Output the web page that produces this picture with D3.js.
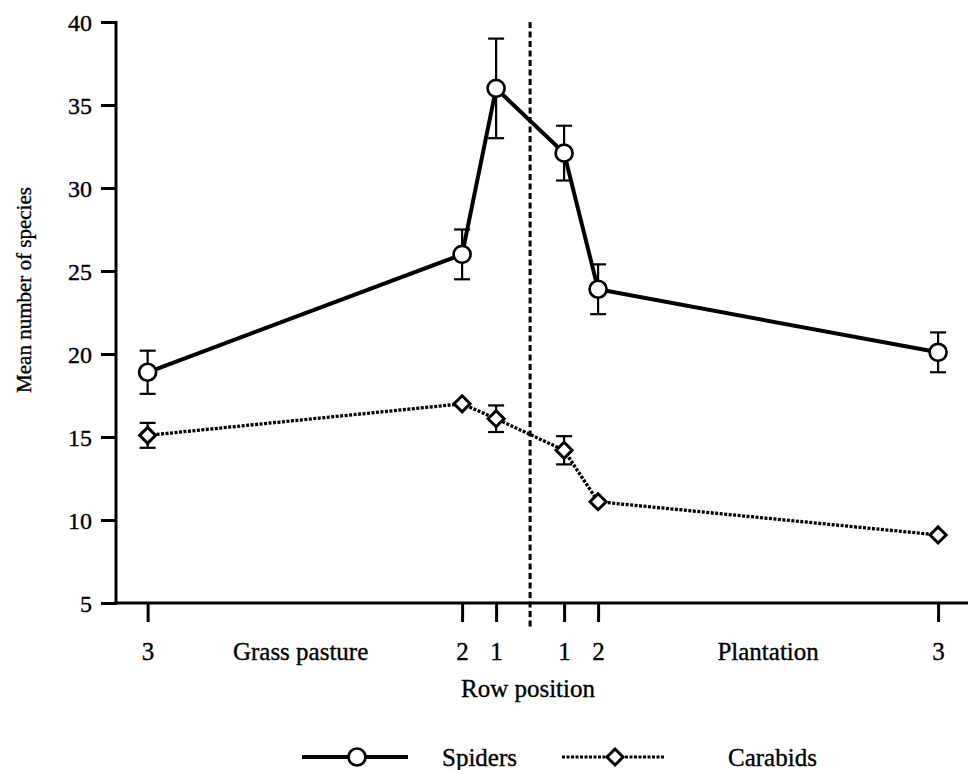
<!DOCTYPE html>
<html>
<head>
<meta charset="utf-8">
<script src="https://cdn.jsdelivr.net/npm/d3@7/dist/d3.min.js"></script>
<style>
  html, body { margin: 0; padding: 0; background: #fff; }
  svg { display: block; }
  text { font-family: "Liberation Serif", "DejaVu Serif", serif; fill: #000; stroke: #000; stroke-width: 0.35px; }
</style>
</head>
<body>
<svg id="chart" width="968" height="770"></svg>
<script>
// ---- data ----
const rowLabels = ["3", "2", "1", "1", "2", "3"];
// position of each row relative to the habitat boundary (rows from edge)
const rowPositions = [-11.25, -2, -1, 1, 2, 12];
const habitatLabels = ["Grass pasture", "Plantation"];
const habitatLabelPos = [-6.75, 7.0];
const spiderMeans = [18.9, 26.0, 36.0, 32.1, 23.9, 20.1];
const spiderErrors = [1.3, 1.5, 3.0, 1.65, 1.5, 1.2];
const carabidMeans = [15.1, 17.0, 16.1, 14.2, 11.1, 9.1];
const carabidErrors = [0.75, 0, 0.8, 0.85, 0, 0];
const yTicks = [5, 10, 15, 20, 25, 30, 35, 40];
const seriesNames = ["Spiders", "Carabids"];

// ---- layout ----
const svg = d3.select("#chart");
const plotLeft = 116, plotRight = 968, plotTop = 22, plotBottom = 603;

const x = d3.scaleLinear().domain([-12.18, 12.88]).range([plotLeft, plotRight]);
const y = d3.scaleLinear().domain([5, 40]).range([plotBottom, plotTop]);

// y axis
const yAxis = svg.append("g").attr("transform", `translate(${plotLeft},0)`)
  .call(d3.axisLeft(y).tickValues(yTicks).tickSize(15).tickPadding(9).tickFormat(d3.format("d")));
yAxis.select(".domain").remove();
yAxis.selectAll(".tick line").attr("stroke", "#000").attr("stroke-width", 3);
yAxis.selectAll(".tick text").style("font-size", "24px").attr("dy", "0.34em");
svg.append("line").attr("x1", plotLeft).attr("x2", plotLeft)
  .attr("y1", plotTop - 1).attr("y2", plotBottom + 1.5)
  .attr("stroke", "#000").attr("stroke-width", 3);

// x axis
const xAxis = svg.append("g").attr("transform", `translate(0,${plotBottom})`)
  .call(d3.axisBottom(x).tickValues(rowPositions).tickSize(19).tickPadding(0)
    .tickFormat((d, i) => rowLabels[i]));
xAxis.select(".domain").remove();
xAxis.selectAll(".tick line").attr("stroke", "#000").attr("stroke-width", 3);
xAxis.selectAll(".tick text").style("font-size", "25px").attr("y", 57).attr("dy", 0);
svg.append("line").attr("x1", plotLeft - 1.5).attr("x2", plotRight)
  .attr("y1", plotBottom).attr("y2", plotBottom)
  .attr("stroke", "#000").attr("stroke-width", 3);

svg.selectAll(".habitat").data(habitatLabels).enter().append("text")
  .attr("class", "habitat")
  .attr("x", (d, i) => x(habitatLabelPos[i]))
  .attr("y", plotBottom + 57)
  .attr("text-anchor", "middle")
  .style("font-size", "25px")
  .text(d => d);

// axis titles
svg.append("text").attr("x", 528).attr("y", 697).attr("text-anchor", "middle")
  .style("font-size", "25px").text("Row position");
svg.append("text").attr("transform", "translate(31,290) rotate(-90)")
  .attr("text-anchor", "middle").style("font-size", "21px").text("Mean number of species");

// boundary line
svg.append("line").attr("x1", x(0)).attr("x2", x(0))
  .attr("y1", plotTop).attr("y2", plotBottom + 24)
  .attr("stroke", "#000").attr("stroke-width", 3).attr("stroke-dasharray", "6,3.5");

// series
function drawSeries(means, errs, lineStyle, marker) {
  const pts = means.map((m, i) => ({x: rowPositions[i], m, e: errs[i]}));
  const g = svg.append("g");
  // error bars
  pts.filter(p => p.e > 0).forEach(p => {
    const cx = x(p.x);
    g.append("line").attr("x1", cx).attr("x2", cx).attr("y1", y(p.m + p.e)).attr("y2", y(p.m - p.e))
      .attr("stroke", "#000").attr("stroke-width", 2.2);
    [p.m + p.e, p.m - p.e].forEach(v => {
      g.append("line").attr("x1", cx - 8).attr("x2", cx + 8).attr("y1", y(v)).attr("y2", y(v))
        .attr("stroke", "#000").attr("stroke-width", 2.2);
    });
  });
  // line
  const line = d3.line().x(p => x(p.x)).y(p => y(p.m));
  const path = g.append("path").datum(pts).attr("d", line).attr("fill", "none")
    .attr("stroke", "#000");
  lineStyle(path);
  // markers
  pts.forEach(p => marker(g, x(p.x), y(p.m)));
}

const solidStyle = sel => sel.attr("stroke-width", 4);
const dottedStyle = sel => sel.attr("stroke-width", 3.3).attr("stroke-dasharray", "3,1.5");
const circleMarker = (g, cx, cy) => g.append("circle").attr("cx", cx).attr("cy", cy).attr("r", 8.5)
  .attr("fill", "#fff").attr("stroke", "#000").attr("stroke-width", 2.7);
const diamondMarker = (g, cx, cy) => g.append("path")
  .attr("d", `M${cx},${cy - 8}L${cx + 8},${cy}L${cx},${cy + 8}L${cx - 8},${cy}Z`)
  .attr("fill", "#fff").attr("stroke", "#000").attr("stroke-width", 3);

drawSeries(spiderMeans, spiderErrors, solidStyle, circleMarker);
drawSeries(carabidMeans, carabidErrors, dottedStyle, diamondMarker);

// legend
const legY = 757;
const leg = svg.append("g");
leg.append("line").attr("x1", 302).attr("x2", 408).attr("y1", legY).attr("y2", legY)
  .attr("stroke", "#000").attr("stroke-width", 4);
circleMarker(leg, 357, legY);
leg.append("text").attr("x", 442).attr("y", legY + 9).style("font-size", "25px").text(seriesNames[0]);
leg.append("line").attr("x1", 562).attr("x2", 665).attr("y1", legY).attr("y2", legY)
  .attr("stroke", "#000").attr("stroke-width", 3).attr("stroke-dasharray", "3,1.5");
diamondMarker(leg, 615, legY);
leg.append("text").attr("x", 728).attr("y", legY + 9).style("font-size", "25px").text(seriesNames[1]);
</script>
</body>
</html>
